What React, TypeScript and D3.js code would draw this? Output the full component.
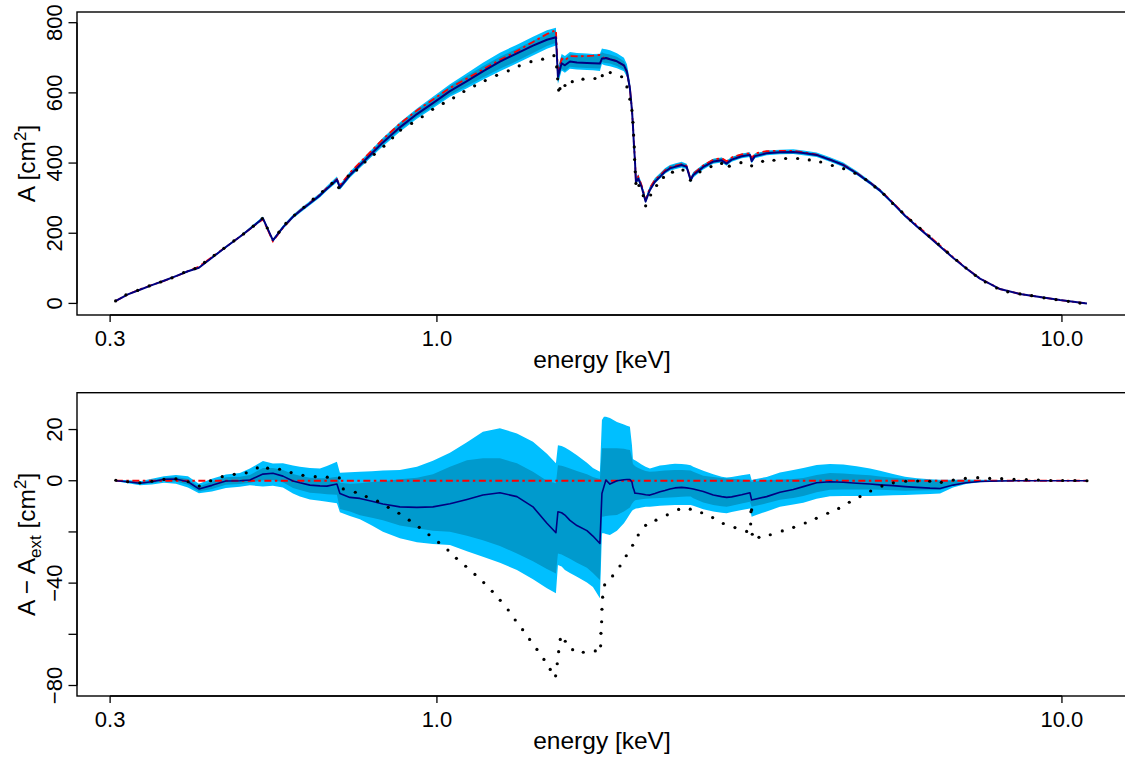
import React from "react";
import * as d3 from "d3";

// ---------- data ----------
// energy grid of the model curves (keV)
const E_LINE = [
  0.3064, 0.3203, 0.3348, 0.3499, 0.3658, 0.3823, 0.3996, 0.4161, 0.4365, 0.4596,
  0.4839, 0.5021, 0.5268, 0.5465, 0.567, 0.5884, 0.6037, 0.6264, 0.6499, 0.6668,
  0.6918, 0.6995, 0.7257, 0.753, 0.787, 0.8195, 0.8725, 0.929, 0.9854, 1.0491,
  1.117, 1.1846, 1.2612, 1.3428, 1.4246, 1.4997, 1.5502, 1.5617, 1.5831, 1.6025,
  1.6324, 1.6749, 1.7378, 1.7766, 1.823, 1.8365, 1.8501, 1.8638, 1.8914, 1.9409,
  1.9916, 2.0137, 2.036, 2.0512, 2.0587, 2.0663, 2.0739, 2.0816, 2.0993, 2.1255,
  2.1571, 2.1917, 2.2324, 2.274, 2.3163, 2.3594, 2.4033, 2.4634, 2.5092, 2.5465,
  2.5712, 2.6677, 2.7679, 2.8544, 2.9075, 2.9616, 3.0728, 3.1683, 3.188, 3.2267,
  3.3688, 3.5387, 3.7168, 3.8563, 4.0503, 4.255, 4.4692, 4.6938, 4.9306, 5.1158,
  5.3667, 5.6095, 5.8614, 6.151, 6.3818, 6.6943, 7.0225, 7.3943, 7.9598, 8.5662,
  9.2221, 9.9266, 10.965,
];
// reference effective area A_ext (cm^2)
const A_EXT = [
  7, 26, 40, 52.5, 64, 77, 92, 105, 132, 161,
  190, 212, 240, 177, 215, 247, 264, 287, 310, 329,
  354, 336, 372, 401, 436, 468, 512, 550, 581, 614,
  641, 667, 694, 719, 745, 768, 779, 658, 697, 692,
  705, 704, 705, 706, 708, 703, 700, 699, 697, 690,
  678, 660, 612, 552, 510, 455, 413, 350, 361, 337,
  296, 329, 352, 365, 379, 388, 392, 397, 392, 354,
  369, 393, 410, 414, 405, 416, 425, 428, 413, 427,
  434, 435, 435, 431, 424, 410, 395, 372, 345, 323,
  287, 252, 222, 190, 165, 132, 101, 71, 41, 27,
  18, 9.5, 0,
];
// median of A - A_ext
const D_MED = [
  0, -0.4, -1.0, -0.4, 0.6, 0.7, -0.4, -3.2, -1.8, -0.1,
  0.0, 0.3, 2.6, 2.9, 1.8, -0.1, -0.8, -1.7, -2.0, -2.1,
  -1.3, -5.0, -6.5, -6.9, -8.0, -9.1, -10.2, -10.4, -10.2, -9.0,
  -7.3, -5.6, -4.7, -6.2, -10.2, -16.6, -20.3, -12.1, -12.5, -13.4,
  -15.5, -17.5, -19.5, -21.6, -24.5, -5.0, -2.3, 0.3, -1.3, 0.0,
  0.4, 0.5, 0.5, -0.5, -2.5, -3.5, -4.9, -4.9, -5.0, -5.2,
  -5.5, -5.6, -5.0, -4.3, -3.8, -3.2, -2.8, -2.6, -2.8, -3.0,
  -3.2, -4.2, -5.6, -6.2, -6.5, -6.3, -5.5, -4.7, -7.5, -7.2,
  -6.2, -4.5, -3.4, -2.3, -0.8, -0.4, -0.6, -1.0, -1.3, -1.6,
  -1.9, -2.3, -2.6, -2.9, -3.0, -1.7, -0.8, -0.3, -0.1, 0,
  0, 0, 0,
];
// lower 95% bound of A - A_ext
const D_LO95 = [
  -0.2, -1.0, -1.8, -1.5, -0.8, -1.2, -2.6, -4.9, -4.2, -2.8,
  -2.3, -1.8, -2.2, -2.0, -2.6, -5.0, -6.2, -7.3, -7.8, -8.2,
  -8.8, -12.3, -13.8, -15.0, -17.5, -19.9, -22.5, -24.0, -24.7, -25.1,
  -27.5, -29.7, -32.0, -34.9, -38.5, -42.0, -44.0, -32.9, -33.5, -34.9,
  -36.0, -37.5, -39.8, -41.5, -45.9, -20.5, -20.5, -20.8, -21.2, -19.5,
  -16.6, -14.8, -13.0, -11.8, -11.4, -11.2, -11.0, -10.8, -10.7, -10.5,
  -10.2, -10.2, -10.0, -9.8, -9.7, -9.6, -9.5, -9.5, -9.5, -9.5,
  -9.8, -11.1, -12.0, -12.5, -12.7, -12.2, -11.4, -10.8, -14.1, -13.6,
  -12.0, -10.2, -9.3, -8.6, -7.0, -6.1, -6.0, -6.0, -6.0, -5.9,
  -5.7, -5.6, -5.4, -5.2, -5.0, -2.6, -1.3, -0.6, -0.2, -0.1,
  -0.1, -0.05, 0,
];
// lower 68% bound
const D_LO68 = [
  -0.1, -0.7, -1.4, -1.0, -0.1, -0.3, -1.6, -4.2, -3.2, -1.6,
  -1.3, -0.8, 0.2, 0.3, -0.6, -2.8, -3.6, -4.7, -5.0, -5.3,
  -5.5, -11.0, -12.0, -13.5, -14.5, -15.4, -17.5, -18.6, -19.5, -19.9,
  -21.5, -23.2, -25.5, -28.4, -31.5, -34.5, -36.2, -28.4, -28.8, -29.5,
  -30.5, -32.0, -34.0, -36.0, -38.8, -14.1, -14.0, -13.8, -13.6, -13.4,
  -12.0, -11.2, -10.5, -9.0, -8.5, -8.0, -7.7, -7.5, -7.4, -7.2,
  -7.0, -6.9, -6.8, -6.7, -6.6, -6.5, -6.4, -6.3, -6.2, -6.2,
  -6.8, -8.5, -9.5, -10.0, -10.2, -9.8, -8.9, -8.2, -10.2, -9.9,
  -8.8, -7.4, -6.7, -6.0, -4.5, -3.5, -3.4, -3.4, -3.4, -3.5,
  -3.7, -3.9, -3.8, -3.7, -3.6, -2.0, -1.0, -0.4, -0.15, -0.05,
  -0.03, 0, 0,
];
// upper 68% bound
const D_HI68 = [
  0.1, -0.1, -0.6, 0.2, 1.2, 1.5, 0.7, -2.2, -0.4, 1.4,
  1.6, 2.2, 5.0, 5.0, 4.2, 2.6, 2.0, 1.2, 1.0, 1.0,
  1.6, -0.8, -1.2, -1.0, -0.5, -0.2, 0.6, 1.2, 2.5, 5.5,
  8.0, 8.8, 8.8, 6.8, 3.5, 0.0, -1.0, 6.1, 5.9, 5.5,
  4.8, 3.8, 2.5, 1.5, 0.7, 12.7, 12.7, 12.7, 12.7, 12.7,
  12.5, 12.2, 12.0, 9.0, 6.5, 6.2, 5.8, 5.5, 5.0, 4.4,
  3.8, 3.5, 3.6, 3.8, 4.0, 4.1, 4.2, 4.2, 4.1, 4.0,
  3.5, 2.0, 1.5, 1.1, 0.9, 0.8, 0.5, 0.3, -0.4, -0.3,
  0.2, 0.5, 0.7, 1.1, 2.2, 3.0, 2.8, 2.4, 2.1, 1.7,
  1.2, 0.8, 0.4, 0.2, 0.0, 0.0, 0.1, 0.1, 0.1, 0.05,
  0.03, 0, 0,
];
// upper 95% bound
const D_HI95 = [
  0.2, 0.3, -0.2, 0.8, 1.8, 2.2, 1.8, -1.2, 0.8, 2.4,
  3.0, 4.8, 7.7, 6.7, 6.8, 6.0, 5.5, 5.0, 4.8, 5.8,
  7.4, 3.1, 3.3, 3.5, 3.7, 4.0, 4.2, 5.5, 7.8, 10.9,
  15.0, 19.1, 20.5, 18.5, 15.2, 10.5, 6.8, 13.9, 13.6, 13.0,
  11.8, 10.0, 7.0, 5.0, 3.5, 23.7, 25.0, 25.0, 24.5, 23.0,
  22.0, 21.5, 21.1, 14.0, 8.5, 8.2, 8.0, 7.8, 7.2, 6.3,
  5.5, 4.8, 5.4, 6.0, 6.2, 6.4, 6.6, 6.5, 6.3, 6.1,
  5.5, 3.9, 2.5, 1.6, 1.3, 1.5, 2.1, 2.6, 0.3, 0.6,
  1.5, 3.2, 4.2, 5.0, 6.2, 6.5, 6.3, 5.7, 4.8, 3.9,
  2.6, 1.6, 1.0, 0.6, 0.4, 0.4, 0.5, 0.4, 0.3, 0.2,
  0.1, 0.05, 0,
];

// dotted curve, upper panel (keV, cm^2)
const E_DOT_TOP = [
  0.3061, 0.318, 0.332, 0.3465, 0.3613, 0.3767, 0.3933, 0.41, 0.4249, 0.4402,
  0.4562, 0.4733, 0.4905, 0.5083, 0.5254, 0.5352, 0.5587, 0.5733, 0.5921, 0.6127,
  0.634, 0.6563, 0.6792, 0.6963, 0.7214, 0.744, 0.7671, 0.7937, 0.8225, 0.8494,
  0.8747, 0.911, 0.9473, 0.9843, 1.0235, 1.0635, 1.1044, 1.149, 1.1948, 1.2459,
  1.3005, 1.3542, 1.414, 1.4762, 1.539, 1.5543, 1.5601, 1.5658, 1.5735, 1.6027,
  1.6464, 1.7126, 1.79, 1.8388, 1.8937, 1.9748, 2.0137, 2.036, 2.0512, 2.0588,
  2.064, 2.0688, 2.0717, 2.0765, 2.0817, 2.1049, 2.1386, 2.1575, 2.1975, 2.2467,
  2.3038, 2.3815, 2.4754, 2.5447, 2.6355, 2.7446, 2.8547, 2.9361, 3.0649, 3.188,
  3.3199, 3.4613, 3.6138, 3.7771, 3.9425, 4.1115, 4.2915, 4.475, 4.6654, 4.8528,
  5.0221, 5.1914, 5.3605, 5.5413, 5.728, 5.9279, 6.128, 6.3417, 6.5555, 6.786,
  7.0229, 7.2682, 7.541, 7.8632, 8.1889, 8.5682, 8.9459, 9.3589, 9.7814, 10.2353,
  10.6853,
];
const A_DOT_TOP = [
  7, 24.5, 37, 50, 61, 73, 88, 99, 117, 137,
  157, 178, 198, 220, 242, 215, 203, 228, 252, 274,
  297, 319, 342, 330, 363, 380, 403, 425, 448, 472,
  494, 513, 532, 553, 570, 586, 604, 620, 635, 650,
  663, 677, 689, 696, 706, 674, 640, 608, 612, 621,
  632, 639, 641, 649, 658, 646, 617, 582, 550, 516,
  480, 446, 410, 375, 342, 336, 307, 278, 309, 336,
  359, 374, 380, 351, 375, 390, 399, 391, 401, 392,
  405, 408, 413, 413, 409, 403, 393, 384, 371, 353,
  332, 311, 285, 261, 237, 214, 192, 169, 146, 123,
  101, 80, 61, 44, 33, 27, 22, 16, 11, 6,
  1,
];

// dotted curve, lower panel (keV, cm^2)
const E_DOT_BOT = [
  0.3064, 0.32, 0.3348, 0.3499, 0.3658, 0.3823, 0.4, 0.4166, 0.4345, 0.4534,
  0.4739, 0.4953, 0.5159, 0.5359, 0.5601, 0.5844, 0.6104, 0.6387, 0.6676, 0.6979,
  0.7083, 0.7403, 0.7708, 0.8036, 0.8357, 0.8692, 0.903, 0.9369, 0.971, 1.0062,
  1.0414, 1.0745, 1.1119, 1.1503, 1.1882, 1.226, 1.2627, 1.3005, 1.3344, 1.3712,
  1.407, 1.4454, 1.4832, 1.518, 1.5484, 1.5577, 1.5658, 1.5753, 1.6045, 1.6487,
  1.7146, 1.792, 1.8277, 1.8298, 1.8345, 1.8366, 1.8412, 1.8549, 1.9103, 1.9626,
  2.0086, 2.0563, 2.0993, 2.1571, 2.2409, 2.3364, 2.4365, 2.5429, 2.6517, 2.7616,
  2.8718, 2.998, 3.1299, 3.1764, 3.18, 3.188, 3.1953, 3.275, 3.4145, 3.569,
  3.7219, 3.8843, 4.0448, 4.2188, 4.3934, 4.568, 4.752, 4.9429, 5.1522, 5.3728,
  5.6236, 5.8777, 6.1436, 6.4122, 6.702, 7.0055, 7.332, 7.6634, 8.0097, 8.3808,
  8.77, 9.1669, 9.5921, 10.025, 10.491, 10.965,
];
const D_DOT_BOT = [
  0.2, -0.4, -0.8, -0.2, 0.5, 0.7, -0.4, -2.1, 0, 1.6,
  2.5, 3.1, 5.0, 4.9, 4.5, 3.2, 2.1, 1.6, 1.4, 1.1,
  -3.2, -4.5, -6.2, -8.0, -10.4, -12.7, -15.4, -18.2, -21.1, -24.1,
  -27.1, -30.3, -33.4, -36.6, -39.8, -43.2, -46.7, -50.5, -54.4, -58.2,
  -62.0, -65.9, -69.8, -73.7, -76.2, -71.5, -66.8, -62.0, -62.7, -66.0,
  -67.0, -66.5, -64.5, -59.6, -55.1, -50.2, -45.5, -40.7, -37.2, -33.3,
  -29.3, -25.2, -21.2, -17.4, -15.4, -13.3, -11.2, -11.1, -12.5, -14.4,
  -16.7, -18.3, -19.8, -16.9, -12.1, -11.4, -20.9, -22.1, -21.1, -19.6,
  -18.2, -16.5, -14.7, -12.7, -10.8, -8.4, -6.2, -4.0, -2.1, -0.8,
  -0.2, -0.1, -0.2, -0.6, 0.3, 0.9, 1.2, 0.9, 0.8, 0.5,
  0.4, 0.3, 0.1, 0.1, 0.1, 0.0,
];

// ticks
const X_TICKS = [0.3, 1.0, 10.0];
const X_TICK_LABELS = ["0.3", "1.0", "10.0"];
const Y_TOP_TICKS = [0, 200, 400, 600, 800];
const Y_TOP_LABELS = ["0", "200", "400", "600", "800"];
const Y_BOT_TICKS = [20, 0, -20, -40, -60, -80];
const Y_BOT_LABELS = ["20", "0", "", "\u221240", "", "\u221280"];

// ---------- styling ----------
const W = 1125;
const H = 757;
const FONT = "'Liberation Sans', Arial, Helvetica, sans-serif";
const FS = 22;
const FS_TITLE = 24.5;
const FS_SUP = 17;
const LIGHT = "#00BFFF";
const DARK = "#009ACD";
const NAVY = "#000080";
const RED = "#FF0000";

const PLOT_L = 77;
const PLOT_R = 1125.8;
const TOP = { t: 12, b: 315 };
const BOT = { t: 392.7, b: 696 };

export default function App() {
  const n = E_LINE.length;
  const lmin = Math.log10(E_LINE[0]);
  const lmax = Math.log10(E_LINE[n - 1]);
  const pad = 0.04 * (lmax - lmin);
  const x = d3
    .scaleLog()
    .domain([Math.pow(10, lmin - pad), Math.pow(10, lmax + pad)])
    .range([PLOT_L, PLOT_R]);
  const yT = d3.scaleLinear().domain([-33, 830.5]).range([TOP.b, TOP.t]);
  const yB = d3.scaleLinear().domain([-84.1, 34.4]).range([BOT.b, BOT.t]);

  const idx = d3.range(n);

  const bandTop = (lo: number[], hi: number[]) =>
    d3
      .area<number>()
      .x((i) => x(E_LINE[i]))
      .y0((i) => yT(A_EXT[i] + lo[i]))
      .y1((i) => yT(A_EXT[i] + hi[i]))(idx) || "";
  const bandBot = (lo: number[], hi: number[]) =>
    d3
      .area<number>()
      .x((i) => x(E_LINE[i]))
      .y0((i) => yB(lo[i]))
      .y1((i) => yB(hi[i]))(idx) || "";

  const medTop =
    d3
      .line<number>()
      .x((i) => x(E_LINE[i]))
      .y((i) => yT(A_EXT[i] + D_MED[i]))(idx) || "";
  const extTop =
    d3
      .line<number>()
      .x((i) => x(E_LINE[i]))
      .y((i) => yT(A_EXT[i]))(idx) || "";
  const medBot =
    d3
      .line<number>()
      .x((i) => x(E_LINE[i]))
      .y((i) => yB(D_MED[i]))(idx) || "";
  const zeroBot =
    d3
      .line<number>()
      .x((i) => x(E_LINE[i]))
      .y(() => yB(0))([0, n - 1]) || "";

  const dash = "7,3.5,2.5,3.5";

  const xAxis = (yBase: number) => (
    <g>
      <line
        x1={x(X_TICKS[0])}
        x2={x(X_TICKS[X_TICKS.length - 1])}
        y1={yBase}
        y2={yBase}
        stroke="#000"
        strokeWidth={1.3}
      />
      {X_TICKS.map((t, i) => (
        <g key={i}>
          <line x1={x(t)} x2={x(t)} y1={yBase} y2={yBase + 7} stroke="#000" strokeWidth={1.3} />
          <text
            x={x(t)}
            y={yBase + 30.7}
            textAnchor="middle"
            fontFamily={FONT}
            fontSize={FS}
            fill="#000"
          >
            {X_TICK_LABELS[i]}
          </text>
        </g>
      ))}
      <text
        x={602}
        y={yBase + 53.4}
        textAnchor="middle"
        fontFamily={FONT}
        fontSize={FS_TITLE}
        fill="#000"
      >
        energy [keV]
      </text>
    </g>
  );

  const yAxis = (
    ticks: number[],
    labels: string[],
    y: d3.ScaleLinear<number, number>
  ) => (
    <g>
      <line
        x1={PLOT_L}
        x2={PLOT_L}
        y1={y(ticks[0])}
        y2={y(ticks[ticks.length - 1])}
        stroke="#000"
        strokeWidth={1.3}
      />
      {ticks.map((t, i) => (
        <g key={i}>
          <line x1={PLOT_L - 8.5} x2={PLOT_L} y1={y(t)} y2={y(t)} stroke="#000" strokeWidth={1.3} />
          {labels[i] !== "" && (
            <text
              transform={`translate(62,${y(t)}) rotate(-90)`}
              textAnchor="middle"
              fontFamily={FONT}
              fontSize={FS}
              fill="#000"
            >
              {labels[i]}
            </text>
          )}
        </g>
      ))}
    </g>
  );

  return (
    <svg
      width={W}
      height={H}
      viewBox={`0 0 ${W} ${H}`}
      style={{ position: "absolute", left: 0, top: 0, background: "#fff" }}
    >
      <rect x={0} y={0} width={W} height={H} fill="#fff" />
      <defs>
        <clipPath id="clipTop">
          <rect x={PLOT_L} y={TOP.t} width={PLOT_R - PLOT_L} height={TOP.b - TOP.t} />
        </clipPath>
        <clipPath id="clipBot">
          <rect x={PLOT_L} y={BOT.t} width={PLOT_R - PLOT_L} height={BOT.b - BOT.t} />
        </clipPath>
      </defs>

      {/* ---------- upper panel ---------- */}
      <g clipPath="url(#clipTop)">
        <path d={bandTop(D_LO95, D_HI95)} fill={LIGHT} stroke="none" />
        <path d={bandTop(D_LO68, D_HI68)} fill={DARK} stroke="none" />
        <path d={extTop} fill="none" stroke={RED} strokeWidth={1.8} strokeDasharray={dash} />
        <path d={medTop} fill="none" stroke={NAVY} strokeWidth={2} strokeLinejoin="round" />
        {E_DOT_TOP.map((e, i) => (
          <circle key={i} cx={x(e)} cy={yT(A_DOT_TOP[i])} r={1.6} fill="#000" />
        ))}
      </g>
      <rect
        x={PLOT_L}
        y={TOP.t}
        width={PLOT_R - PLOT_L}
        height={TOP.b - TOP.t}
        fill="none"
        stroke="#000"
        strokeWidth={1.4}
      />
      {xAxis(TOP.b)}
      {yAxis(Y_TOP_TICKS, Y_TOP_LABELS, yT)}
      <text
        transform={`translate(35,${(TOP.t + TOP.b) / 2}) rotate(-90)`}
        textAnchor="middle"
        fontFamily={FONT}
        fontSize={FS_TITLE}
        fill="#000"
      >
        A [cm
        <tspan dy={-9} fontSize={FS_SUP}>
          2
        </tspan>
        <tspan dy={9}>]</tspan>
      </text>

      {/* ---------- lower panel ---------- */}
      <g clipPath="url(#clipBot)">
        <path d={bandBot(D_LO95, D_HI95)} fill={LIGHT} stroke="none" />
        <path d={bandBot(D_LO68, D_HI68)} fill={DARK} stroke="none" />
        <path d={zeroBot} fill="none" stroke={RED} strokeWidth={1.8} strokeDasharray={dash} />
        <path d={medBot} fill="none" stroke={NAVY} strokeWidth={1.6} strokeLinejoin="round" />
        {E_DOT_BOT.map((e, i) => (
          <circle key={i} cx={x(e)} cy={yB(D_DOT_BOT[i])} r={1.6} fill="#000" />
        ))}
      </g>
      <rect
        x={PLOT_L}
        y={BOT.t}
        width={PLOT_R - PLOT_L}
        height={BOT.b - BOT.t}
        fill="none"
        stroke="#000"
        strokeWidth={1.4}
      />
      {xAxis(BOT.b)}
      {yAxis(Y_BOT_TICKS, Y_BOT_LABELS, yB)}
      <text
        transform={`translate(35,${(BOT.t + BOT.b) / 2}) rotate(-90)`}
        textAnchor="middle"
        fontFamily={FONT}
        fontSize={FS_TITLE}
        fill="#000"
      >
        A {"\u2212"} A
        <tspan dy={6} fontSize={FS_SUP}>
          ext
        </tspan>
        <tspan dy={-6}> [cm</tspan>
        <tspan dy={-9} fontSize={FS_SUP}>
          2
        </tspan>
        <tspan dy={9}>]</tspan>
      </text>
    </svg>
  );
}
